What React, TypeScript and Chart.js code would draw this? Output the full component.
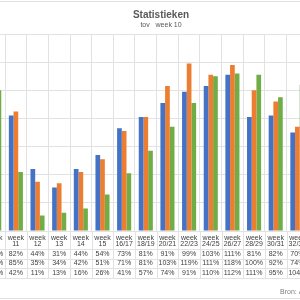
import React, { useEffect, useRef } from "react";
import { Chart, registerables } from "chart.js";

Chart.register(...registerables);

// Weeks (columns of the data table) and the three series, in percent of week 10
const weeks = ["10", "11", "12", "13", "14", "15", "16/17", "18/19", "20/21", "22/23", "24/25", "26/27", "28/29", "30/31", "32/33"];
const seriesBlue = [100, 82, 44, 31, 44, 54, 73, 81, 91, 99, 103, 111, 81, 82, 70];
const seriesOrange = [100, 85, 35, 34, 42, 51, 71, 81, 103, 119, 111, 118, 100, 92, 74];
const seriesGreen = [100, 42, 11, 13, 16, 26, 41, 57, 74, 91, 110, 112, 111, 95, 104];
const seriesNames = ["Reeks 1", "Reeks 2", "Reeks 3"];

const TITLE = "Statistieken";
const SUBTITLE = "tov   week 10";
const SOURCE = "Bron: A";

const BLUE = "#4472C4";
const ORANGE = "#ED7D31";
const GREEN = "#70AD47";
const GRID = "#E2E2E2";
const TEXT = "#404040";
const FONT = "'Liberation Sans', Arial, sans-serif";

// canvas geometry (the canvas is wider than the window and shifted left)
const CANVAS_W = 330;
const CANVAS_H = 300;
const SHIFT = -20;

const pct = (v: number) => `${v}%`;

const frameAndTable = {
  id: "frameAndTable",
  afterDraw(chart: any) {
    const { ctx, chartArea, scales } = chart;
    const x = scales.x;
    const n = weeks.length;
    const cw = (x.right - x.left) / n;
    const top = chartArea.bottom;
    const headerBottom = top + 18;
    const rowH = 9.7;
    const rowLines = [headerBottom, headerBottom + rowH, headerBottom + 2 * rowH, headerBottom + 3 * rowH];

    ctx.save();
    ctx.strokeStyle = GRID;
    ctx.lineWidth = 1;

    // outer chart frame
    ctx.beginPath();
    ctx.moveTo(0, 1.5);
    ctx.lineTo(CANVAS_W, 1.5);
    ctx.moveTo(0, CANVAS_H - 1.5);
    ctx.lineTo(CANVAS_W, CANVAS_H - 1.5);
    ctx.stroke();

    // table grid
    ctx.beginPath();
    rowLines.forEach((y) => {
      const yy = Math.round(y) + 0.5;
      ctx.moveTo(0, yy);
      ctx.lineTo(x.right, yy);
    });
    for (let i = 0; i <= n; i++) {
      const xx = Math.round(x.left + i * cw) + 0.5;
      ctx.moveTo(xx, top);
      ctx.lineTo(xx, rowLines[3]);
    }
    ctx.stroke();

    // table text
    ctx.fillStyle = TEXT;
    ctx.font = `7px ${FONT}`;
    ctx.textAlign = "center";
    ctx.textBaseline = "middle";
    const rows = [seriesBlue, seriesOrange, seriesGreen];
    for (let i = 0; i < n; i++) {
      const cx = x.getPixelForValue(i);
      ctx.fillText("week", cx, top + 7);
      ctx.fillText(weeks[i], cx, top + 13.5);
      rows.forEach((r, k) => {
        ctx.fillText(pct(r[i]), cx, headerBottom + rowH * k + rowH / 2);
      });
    }

    // title and subtitle
    ctx.fillStyle = "#595959";
    ctx.font = `bold 10px ${FONT}`;
    ctx.fillText(TITLE, 161 - SHIFT, 15.5);
    ctx.font = `7px ${FONT}`;
    ctx.fillText(SUBTITLE, 161 - SHIFT, 24.7);

    // source note
    ctx.fillStyle = "#7F7F7F";
    ctx.textAlign = "left";
    ctx.fillText(SOURCE, 280 - SHIFT, 292);
    ctx.restore();
  },
};

export default function App() {
  const ref = useRef<HTMLCanvasElement>(null);

  useEffect(() => {
    if (!ref.current) return;
    const chart = new Chart(ref.current, {
      type: "bar",
      data: {
        labels: weeks.map((w) => `week ${w}`),
        datasets: [
          { label: seriesNames[0], data: seriesBlue, backgroundColor: BLUE },
          { label: seriesNames[1], data: seriesOrange, backgroundColor: ORANGE },
          { label: seriesNames[2], data: seriesGreen, backgroundColor: GREEN },
        ],
      },
      options: {
        responsive: false,
        animation: false,
        devicePixelRatio: 1,
        datasets: { bar: { categoryPercentage: 0.65, barPercentage: 1 } },
        layout: { padding: { top: 34, left: 3.4, right: 1.8, bottom: 69 } },
        plugins: {
          legend: { display: false },
          title: { display: false },
          tooltip: { enabled: false },
        },
        scales: {
          x: {
            display: true,
            afterFit: (s: any) => { s.height = 0; },
            ticks: { display: false },
            grid: { color: GRID, drawTicks: false, offset: true },
            border: { display: true, color: GRID },
          },
          y: {
            display: true,
            min: 0,
            max: 140,
            afterFit: (s: any) => { s.width = 0; },
            ticks: { display: false, stepSize: 20 },
            grid: { color: GRID, drawTicks: false },
            border: { display: false },
          },
        },
      },
      plugins: [frameAndTable],
    });
    return () => chart.destroy();
  }, []);

  return (
    <div style={{ position: "fixed", left: 0, top: 0, width: 300, height: 300, overflow: "hidden", background: "#fff" }}>
      <canvas ref={ref} width={CANVAS_W} height={CANVAS_H} style={{ position: "absolute", left: SHIFT, top: 0 }} />
    </div>
  );
}
